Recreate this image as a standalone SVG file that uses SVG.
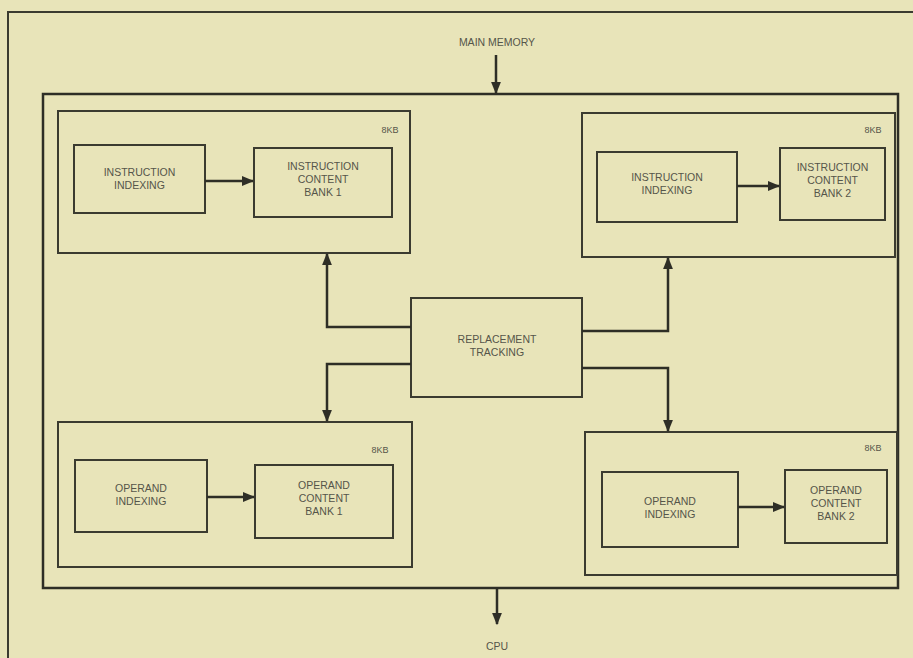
<svg xmlns="http://www.w3.org/2000/svg" width="913" height="658" viewBox="0 0 913 658">
<defs>
<marker id="ah" viewBox="0 0 10 10" refX="9" refY="5" markerWidth="5" markerHeight="5" orient="auto" markerUnits="strokeWidth">
<path d="M0,1 L10,5 L0,9 Z" fill="#2e2e26"/>
</marker>
</defs>
<style>
.bg{fill:#e8e4b9}
.box{fill:none;stroke:#3b3b30;stroke-width:2}
.frame{fill:none;stroke:#2e2e26;stroke-width:2.5}
.con{fill:none;stroke:#2e2e26;stroke-width:2.5;marker-end:url(#ah)}
text{font-family:"Liberation Sans",Arial,sans-serif;font-size:10.5px;fill:#55554a;text-anchor:middle}
.sm{font-size:9px}
</style>
<rect class="bg" x="0" y="0" width="913" height="658"/>
<path d="M8,658 V12 H913" fill="none" stroke="#3b3b30" stroke-width="2"/>
<g id="main-cache">
<rect class="frame" x="43" y="94" width="855" height="494"/>
</g>
<g id="main-memory"><text x="497" y="46">MAIN MEMORY</text></g>
<g id="cpu"><text x="497" y="650">CPU</text></g>

<g id="ibank1">
<rect class="box" x="58" y="111" width="352" height="142"/>
<text class="sm" x="390" y="133">8KB</text>
</g>
<g id="ii1">
<rect class="box" x="74" y="145" width="131" height="68"/>
<text x="139.5" y="176">INSTRUCTION</text><text x="139.5" y="189">INDEXING</text>
</g>
<g id="icb1">
<rect class="box" x="254" y="148" width="138" height="69"/>
<text x="323" y="170">INSTRUCTION</text><text x="323" y="183">CONTENT</text><text x="323" y="196">BANK 1</text>
</g>

<g id="ibank2">
<rect class="box" x="582" y="113" width="313" height="144"/>
<text class="sm" x="873" y="133">8KB</text>
</g>
<g id="ii2">
<rect class="box" x="597" y="152" width="140" height="70"/>
<text x="667" y="181">INSTRUCTION</text><text x="667" y="194">INDEXING</text>
</g>
<g id="icb2">
<rect class="box" x="780" y="148" width="105" height="72"/>
<text x="832.5" y="171">INSTRUCTION</text><text x="832.5" y="184">CONTENT</text><text x="832.5" y="197">BANK 2</text>
</g>

<g id="obank1">
<rect class="box" x="58" y="422" width="354" height="145"/>
<text class="sm" x="380" y="453">8KB</text>
</g>
<g id="oi1">
<rect class="box" x="75" y="460" width="132" height="72"/>
<text x="141" y="492">OPERAND</text><text x="141" y="505">INDEXING</text>
</g>
<g id="ocb1">
<rect class="box" x="255" y="465" width="138" height="73"/>
<text x="324" y="489">OPERAND</text><text x="324" y="502">CONTENT</text><text x="324" y="515">BANK 1</text>
</g>

<g id="obank2">
<rect class="box" x="585" y="432" width="312" height="143"/>
<text class="sm" x="873" y="451">8KB</text>
</g>
<g id="oi2">
<rect class="box" x="602" y="472" width="136" height="75"/>
<text x="670" y="505">OPERAND</text><text x="670" y="518">INDEXING</text>
</g>
<g id="ocb2">
<rect class="box" x="785" y="470" width="102" height="73"/>
<text x="836" y="494">OPERAND</text><text x="836" y="507">CONTENT</text><text x="836" y="520">BANK 2</text>
</g>

<g id="rt">
<rect class="box" x="411" y="298" width="171" height="99"/>
<text x="497" y="343">REPLACEMENT</text><text x="497" y="356">TRACKING</text>
</g>

<g id="connectors">
<path class="con" d="M496,55 V93"/>
<path class="con" d="M497,589 V624"/>
<path class="con" d="M205,181 H253"/>
<path class="con" d="M737,186 H779"/>
<path class="con" d="M207,497 H254"/>
<path class="con" d="M738,507 H784"/>
<path class="con" d="M411,327 H327 V254"/>
<path class="con" d="M582,331 H668 V258"/>
<path class="con" d="M411,364 H327 V421"/>
<path class="con" d="M582,368 H668 V431"/>
</g>
</svg>
